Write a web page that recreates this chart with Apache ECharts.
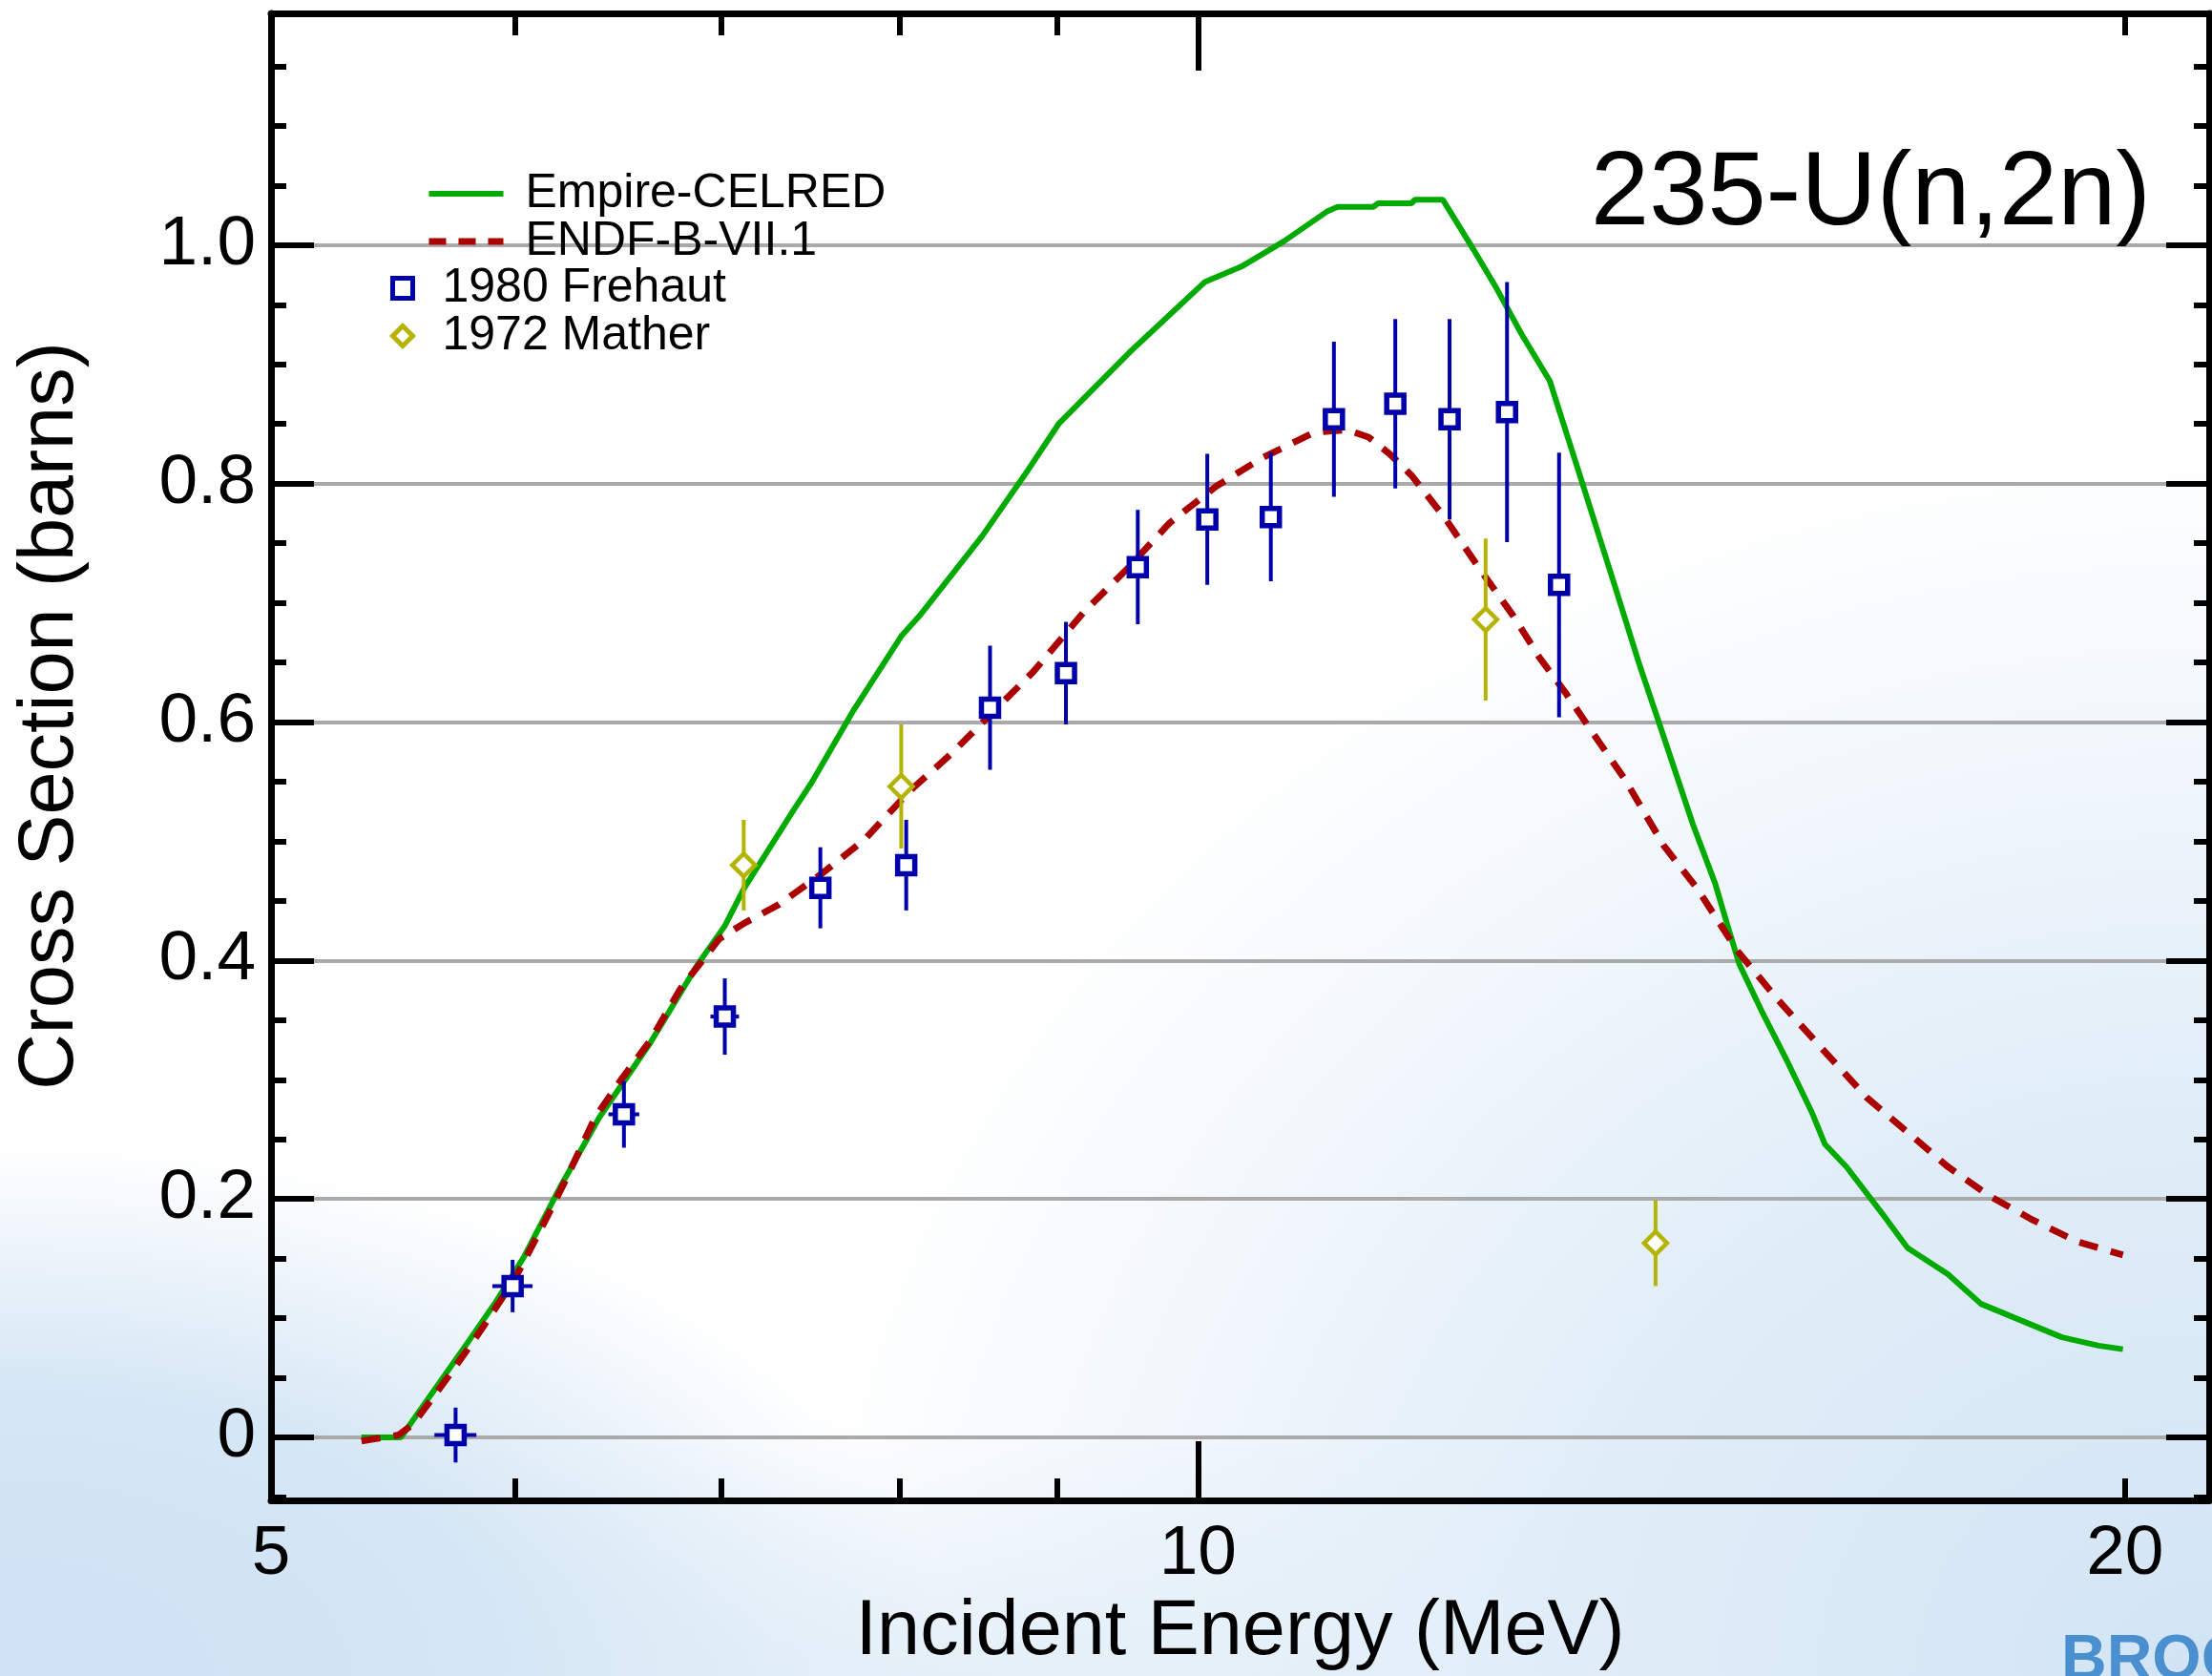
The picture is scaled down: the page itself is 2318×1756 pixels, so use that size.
<!DOCTYPE html>
<html>
<head>
<meta charset="utf-8">
<script src="https://cdn.jsdelivr.net/npm/echarts@6/dist/echarts.min.js"></script>
<style>
html, body { margin: 0; padding: 0; width: 2318px; height: 1756px; overflow: hidden; }
body {
  background:
    radial-gradient(ellipse 1000px 560px at 0px 1756px, #cde1f3 0%, #d6e7f5 55%, rgba(214,231,245,0) 100%),
    radial-gradient(ellipse 1500px 1300px at 2318px 1756px, #d2e4f4 0%, #e0edf8 45%, rgba(224,237,248,0) 100%),
    radial-gradient(ellipse 1400px 260px at 1000px 1756px, #e6f0f9 0%, rgba(230,240,249,0) 100%),
    #ffffff;
}
#chart { width: 2318px; height: 1756px; }
</style>
</head>
<body>
<div id="chart"></div>
<script>
// ---- Data ----
const empireE  = [5.35, 5.51, 5.79, 5.92, 6.04, 6.21, 6.39, 6.52, 6.64, 6.88, 7.02, 7.12, 7.39, 7.49, 7.73, 8.01, 8.12, 8.51, 8.81, 9.01, 9.50, 10.05, 10.33, 10.66, 11.01, 11.10, 11.40, 11.44, 11.73, 11.76, 12.01, 12.29, 12.50, 12.74, 13.01, 13.32, 13.67, 13.92, 14.11, 14.48, 14.72, 14.88, 14.99, 15.24, 15.52, 15.83, 15.98, 16.24, 16.70, 17.00, 17.52, 17.96, 18.51, 19.08, 19.61, 19.97];
const empireXS = [0, 0, 0.079, 0.115, 0.151, 0.211, 0.268, 0.301, 0.331, 0.397, 0.429, 0.460, 0.526, 0.549, 0.610, 0.672, 0.689, 0.756, 0.812, 0.850, 0.910, 0.969, 0.982, 1.003, 1.028, 1.032, 1.032, 1.035, 1.035, 1.038, 1.038, 0.996, 0.964, 0.925, 0.886, 0.803, 0.711, 0.646, 0.601, 0.514, 0.465, 0.424, 0.397, 0.358, 0.318, 0.272, 0.246, 0.227, 0.186, 0.159, 0.137, 0.112, 0.098, 0.084, 0.077, 0.074];

const endfE  = [5.35, 5.50, 5.56, 5.72, 5.85, 6.00, 6.13, 6.23, 6.37, 6.50, 6.64, 6.79, 6.99, 7.12, 7.31, 7.54, 7.79, 8.06, 8.32, 8.56, 8.84, 9.18, 9.48, 9.79, 10.14, 10.50, 10.91, 11.18, 11.36, 11.54, 11.73, 12.03, 12.34, 12.66, 12.91, 13.16, 13.45, 13.76, 14.17, 14.52, 14.97, 15.43, 16.00, 16.49, 17.00, 17.52, 18.06, 18.68, 19.31, 19.97];
const endfXS = [-0.003, 0.002, 0.011, 0.054, 0.090, 0.133, 0.179, 0.215, 0.268, 0.301, 0.333, 0.376, 0.418, 0.431, 0.447, 0.472, 0.501, 0.542, 0.574, 0.606, 0.642, 0.692, 0.728, 0.767, 0.798, 0.822, 0.843, 0.845, 0.839, 0.825, 0.807, 0.771, 0.729, 0.689, 0.654, 0.625, 0.589, 0.552, 0.496, 0.461, 0.408, 0.367, 0.322, 0.285, 0.256, 0.227, 0.203, 0.182, 0.164, 0.153];

const frehautE    = [5.74, 5.99, 6.51, 7.02, 7.54, 8.04, 8.56, 9.06, 9.56, 10.07, 10.56, 11.07, 11.59, 12.07, 12.60, 13.10];
const frehautXS   = [0.002, 0.127, 0.271, 0.353, 0.461, 0.480, 0.612, 0.641, 0.730, 0.770, 0.772, 0.854, 0.867, 0.854, 0.860, 0.715];
const frehautErr  = [0.023, 0.022, 0.028, 0.032, 0.034, 0.038, 0.052, 0.043, 0.048, 0.055, 0.054, 0.065, 0.071, 0.084, 0.109, 0.111];
const frehautEErr = [0.09, 0.09, 0.075, 0.075, 0, 0, 0, 0, 0, 0, 0, 0, 0, 0, 0, 0];

const matherE   = [7.12, 8.01, 12.40, 14.08];
const matherXS  = [0.480, 0.546, 0.686, 0.163];
const matherErr = [0.038, 0.052, 0.068, 0.036];

const xLabelValues = [5, 10, 20];
const xMajorTicks  = [10];
const xMinorTicks  = [6, 7, 8, 9, 20];
const yLabelValues = [0, 0.2, 0.4, 0.6, 0.8, 1.0];
const yMinorTicks  = [-0.05, 0.05, 0.1, 0.15, 0.25, 0.3, 0.35, 0.45, 0.5, 0.55, 0.65, 0.7, 0.75, 0.85, 0.9, 0.95, 1.05, 1.1, 1.15];

// ---- Styles ----
const FONT = '"Liberation Sans", Arial, Helvetica, sans-serif';
const GREEN = '#00aa00';
const RED = '#aa0000';
const BLUE = '#0000aa';
const OLIVE = '#b4b400';
const XMIN = 5, XMAX = 21.3, YMIN = -0.0528, YMAX = 1.1944;

const zip2 = (a, b) => a.map((v, i) => [v, b[i]]);

function errRender(params, api) {
  const E = api.value(0), y = api.value(1), dy = api.value(2), dx = api.value(3);
  const color = api.visual('color');
  const p1 = api.coord([E, y + dy]);
  const p2 = api.coord([E, y - dy]);
  const children = [{
    type: 'line',
    shape: { x1: p1[0], y1: p1[1], x2: p2[0], y2: p2[1] },
    style: { stroke: color, lineWidth: 4 }
  }];
  if (dx > 0) {
    const l = api.coord([E - dx, y]);
    const r = api.coord([E + dx, y]);
    children.push({
      type: 'line',
      shape: { x1: l[0], y1: l[1], x2: r[0], y2: r[1] },
      style: { stroke: color, lineWidth: 4 }
    });
  }
  return { type: 'group', children };
}

function xAxisDef(position, ticks, len, showLine, labels, name) {
  return {
    type: 'log', logBase: 10, min: XMIN, max: XMAX, position: position, gridIndex: 0,
    axisLine: { show: showLine, onZero: false, lineStyle: { color: '#000', width: 7 } },
    axisTick: { show: true, inside: true, length: len, customValues: ticks, lineStyle: { color: '#000', width: 6 } },
    axisLabel: labels ? {
      show: true, customValues: labels, margin: 20, color: '#000', fontSize: 73, fontFamily: FONT,
      formatter: v => String(Math.round(v))
    } : { show: false },
    splitLine: { show: false },
    minorTick: { show: false },
    name: name || '',
    nameLocation: 'middle',
    nameGap: 98,
    nameTextStyle: { color: '#000', fontSize: 81, fontFamily: FONT }
  };
}

function yAxisDef(position, ticks, len, showLine, labels, split) {
  return {
    type: 'value', min: YMIN, max: YMAX, position: position, gridIndex: 0,
    axisLine: { show: showLine, onZero: false, lineStyle: { color: '#000', width: 7 } },
    axisTick: { show: true, inside: true, length: len, customValues: ticks, lineStyle: { color: '#000', width: 6 } },
    axisLabel: labels ? {
      show: true, customValues: labels, margin: 16, color: '#000', fontSize: 73, fontFamily: FONT,
      formatter: v => (Math.abs(v) < 1e-9 ? '0' : v.toFixed(1))
    } : { show: false },
    splitLine: { show: !!split, lineStyle: { color: '#aaaaaa', width: 4 } }
  };
}

const chart = echarts.init(document.getElementById('chart'), null, { renderer: 'canvas' });
chart.setOption({
  animation: false,
  backgroundColor: 'transparent',
  grid: { left: 284, right: 3, top: 14, bottom: 183, containLabel: false },
  title: {
    text: '235-U(n,2n)', right: 64, top: 150, padding: 0,
    textStyle: { color: '#000', fontSize: 110, fontWeight: 'normal', fontFamily: FONT }
  },
  legend: [
    {
      left: 446, top: 178, orient: 'vertical', padding: 0, itemGap: 0,
      itemWidth: 78, itemHeight: 2,
      textStyle: { color: '#000', fontSize: 50, fontFamily: FONT, lineHeight: 50, padding: [0, 0, 0, 18] },
      data: [
        { name: 'Empire-CELRED', itemStyle: { opacity: 0 }, lineStyle: { width: 6, color: GREEN, type: 'solid' } },
        { name: 'ENDF-B-VII.1', itemStyle: { opacity: 0 }, lineStyle: { width: 7, color: RED, type: [18, 13] } }
      ],
      selectedMode: false
    },
    {
      left: 409, top: 277, orient: 'vertical', padding: 0, itemGap: 0,
      itemWidth: 21, itemHeight: 21,
      textStyle: { color: '#000', fontSize: 50, fontFamily: FONT, lineHeight: 50, padding: [0, 0, 0, 26] },
      data: [
        { name: '1980 Frehaut', itemStyle: { color: '#ffffff', borderColor: BLUE, borderWidth: 5 } },
        { name: '1972 Mather', itemStyle: { color: '#ffffff', borderColor: OLIVE, borderWidth: 5 } }
      ],
      selectedMode: false
    }
  ],
  xAxis: [
    xAxisDef('bottom', xMajorTicks, 62, true, xLabelValues, 'Incident Energy (MeV)'),
    xAxisDef('bottom', xMinorTicks, 23, false, null),
    xAxisDef('top', xMajorTicks, 60, true, null),
    xAxisDef('top', xMinorTicks, 23, false, null)
  ],
  yAxis: [
    yAxisDef('left', yLabelValues, 45, true, yLabelValues, true),
    yAxisDef('left', yMinorTicks, 16, false, null, false),
    yAxisDef('right', yLabelValues, 45, true, null, false),
    yAxisDef('right', yMinorTicks, 16, false, null, false)
  ],
  graphic: [
    {
      type: 'text', x: 54, y: 750, rotation: Math.PI / 2,
      style: {
        text: 'Cross Section (barns)', font: '81px ' + FONT, fill: '#000',
        align: 'center', verticalAlign: 'middle', textAlign: 'center', textVerticalAlign: 'middle'
      }
    },
    {
      type: 'text', x: 2160, y: 1708,
      style: {
        text: 'BROOKHAVEN', font: 'bold 66px "Liberation Sans Narrow", "Liberation Sans", Arial, sans-serif',
        fill: '#4a8fcf', align: 'left', verticalAlign: 'top', textAlign: 'left', textVerticalAlign: 'top'
      }
    }
  ],
  series: [
    {
      name: 'Empire-CELRED', type: 'line', xAxisIndex: 0, yAxisIndex: 0,
      data: zip2(empireE, empireXS), symbol: 'none', smooth: false,
      lineStyle: { color: GREEN, width: 6 }, itemStyle: { color: GREEN }, z: 3
    },
    {
      name: 'ENDF-B-VII.1', type: 'line', xAxisIndex: 0, yAxisIndex: 0,
      data: zip2(endfE, endfXS), symbol: 'none', smooth: false,
      lineStyle: { color: RED, width: 7, type: [20, 14] }, itemStyle: { color: RED }, z: 3
    },
    {
      name: 'Frehaut errors', type: 'custom', xAxisIndex: 0, yAxisIndex: 0,
      renderItem: errRender, itemStyle: { color: BLUE },
      encode: { x: 0, y: 1 },
      data: frehautE.map((e, i) => [e, frehautXS[i], frehautErr[i], frehautEErr[i]]), z: 4
    },
    {
      name: 'Mather errors', type: 'custom', xAxisIndex: 0, yAxisIndex: 0,
      renderItem: errRender, itemStyle: { color: OLIVE },
      encode: { x: 0, y: 1 },
      data: matherE.map((e, i) => [e, matherXS[i], matherErr[i], 0]), z: 4
    },
    {
      name: '1980 Frehaut', type: 'scatter', xAxisIndex: 0, yAxisIndex: 0,
      data: zip2(frehautE, frehautXS), symbol: 'rect', symbolSize: 18,
      itemStyle: { color: '#ffffff', borderColor: BLUE, borderWidth: 5.5, opacity: 1 }, z: 5
    },
    {
      name: '1972 Mather', type: 'scatter', xAxisIndex: 0, yAxisIndex: 0,
      data: zip2(matherE, matherXS), symbol: 'diamond', symbolSize: 24,
      itemStyle: { color: '#ffffff', borderColor: OLIVE, borderWidth: 4.5, opacity: 1 }, z: 5
    }
  ]
});
</script>
</body>
</html>
